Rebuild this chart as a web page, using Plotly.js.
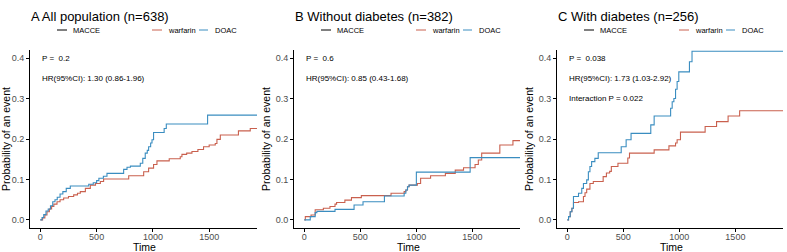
<!DOCTYPE html>
<html>
<head>
<meta charset="utf-8">
<script src="https://cdn.plot.ly/plotly-3.0.1.min.js"></script>
<style>html,body{margin:0;padding:0;background:#fff;}#chart{width:787px;height:252px;}</style>
</head>
<body>
<div id="chart"></div>
<script>
// ---- Data ----
const panelTitles = ["A All population (n=638)", "B Without diabetes (n=382)", "C With diabetes (n=256)"];
const pTexts = ["P = \u00a00.2", "P = \u00a00.6", "P = \u00a00.038"];
const hrTexts = ["HR(95%CI): 1.30 (0.86-1.96)", "HR(95%CI): 0.85 (0.43-1.68)", "HR(95%CI): 1.73 (1.03-2.92)"];
const interactionText = "Interaction P = 0.022";
const seriesNames = ["warfarin", "DOAC"];
const legendTitle = "MACCE";
const xTitle = "Time";
const yTitle = "Probability of an event";
const xTicks = [0, 500, 1000, 1500];
const yTicks = [0, 0.1, 0.2, 0.3, 0.4];

// Panel A
const A_warf_t = [0, 20, 40, 59, 80, 100, 120, 148, 175, 207, 250, 296, 330, 355, 400, 444, 490, 533, 562, 785, 918, 962, 1006, 1036, 1145, 1243, 1258, 1300, 1347, 1400, 1450, 1500, 1554, 1569, 1599, 1760, 1865, 1930];
const A_warf_p = [0, 0.005, 0.012, 0.02, 0.027, 0.033, 0.039, 0.045, 0.05, 0.054, 0.058, 0.062, 0.066, 0.07, 0.078, 0.086, 0.09, 0.095, 0.101, 0.109, 0.119, 0.128, 0.137, 0.146, 0.151, 0.156, 0.162, 0.165, 0.169, 0.174, 0.181, 0.185, 0.189, 0.199, 0.21, 0.22, 0.226, 0.226];
const A_doac_t = [0, 15, 30, 50, 70, 90, 110, 130, 150, 175, 200, 230, 266, 430, 470, 500, 520, 560, 592, 740, 770, 800, 888, 910, 932, 950, 962, 980, 992, 1006, 1100, 1119, 1486, 1930];
const A_doac_p = [0, 0.006, 0.013, 0.022, 0.027, 0.035, 0.045, 0.05, 0.056, 0.064, 0.07, 0.078, 0.084, 0.088, 0.092, 0.097, 0.103, 0.108, 0.115, 0.125, 0.13, 0.133, 0.14, 0.152, 0.165, 0.172, 0.181, 0.19, 0.198, 0.216, 0.226, 0.237, 0.259, 0.259];

// Panel B
const B_warf_t = [0, 9, 60, 97, 170, 229, 274, 288, 362, 421, 509, 774, 891, 906, 921, 935, 1009, 1038, 1127, 1259, 1347, 1421, 1524, 1553, 1583, 1745, 1862, 1930];
const B_warf_p = [0, 0.008, 0.012, 0.025, 0.029, 0.033, 0.039, 0.043, 0.049, 0.055, 0.06, 0.066, 0.07, 0.074, 0.082, 0.086, 0.09, 0.103, 0.109, 0.115, 0.123, 0.129, 0.137, 0.148, 0.165, 0.185, 0.196, 0.196];
const B_doac_t = [0, 53, 97, 112, 274, 444, 524, 715, 891, 906, 921, 935, 1000, 1480, 1930];
const B_doac_p = [0, 0.008, 0.018, 0.021, 0.026, 0.037, 0.045, 0.059, 0.066, 0.074, 0.082, 0.086, 0.118, 0.154, 0.154];

// Panel C
const C_warf_t = [0, 11, 26, 41, 55, 100, 144, 158, 173, 202, 232, 320, 349, 378, 393, 452, 540, 555, 775, 907, 966, 980, 1010, 1230, 1332, 1435, 1538, 1930];
const C_warf_p = [0, 0.008, 0.02, 0.029, 0.043, 0.045, 0.058, 0.067, 0.076, 0.09, 0.095, 0.107, 0.116, 0.12, 0.132, 0.14, 0.153, 0.165, 0.173, 0.183, 0.19, 0.198, 0.217, 0.231, 0.243, 0.257, 0.27, 0.27];
const C_doac_t = [0, 11, 26, 41, 55, 100, 129, 144, 173, 188, 202, 217, 246, 276, 481, 525, 569, 745, 775, 922, 936, 951, 966, 980, 995, 1090, 1113, 1930];
const C_doac_p = [0, 0.008, 0.02, 0.029, 0.058, 0.066, 0.078, 0.09, 0.099, 0.119, 0.132, 0.144, 0.152, 0.166, 0.181, 0.198, 0.214, 0.235, 0.257, 0.276, 0.292, 0.3, 0.323, 0.342, 0.366, 0.391, 0.417, 0.417];

// ---- Styling / layout ----
const W = 787, H = 252;
const RED = "#C9604E", BLUE = "#3A8DC0";
const FONT = "Liberation Sans, Arial, sans-serif";
const leftPx = [30, 294, 557];
const rightPx = [257, 520, 783];
const topPx = 50, botPx = 228;

const panels = [
  {warf: [A_warf_t, A_warf_p], doac: [A_doac_t, A_doac_p]},
  {warf: [B_warf_t, B_warf_p], doac: [B_doac_t, B_doac_p]},
  {warf: [C_warf_t, C_warf_p], doac: [C_doac_t, C_doac_p]}
];

const traces = [];
const layout = {
  width: W, height: H,
  margin: {l: 0, r: 0, t: 0, b: 0},
  paper_bgcolor: "#fff", plot_bgcolor: "#fff",
  showlegend: false,
  font: {family: FONT, color: "#000"},
  annotations: [], shapes: []
};

const px = x => x / W;
const py = y => 1 - y / H;

panels.forEach((p, i) => {
  const n = i === 0 ? "" : String(i + 1);
  const xa = "x" + n, ya = "y" + n;
  traces.push({x: p.warf[0], y: p.warf[1], xaxis: xa, yaxis: ya, type: "scatter", mode: "lines",
    name: seriesNames[0], line: {shape: "hv", color: RED, width: 1.1}, hoverinfo: "x+y"});
  traces.push({x: p.doac[0], y: p.doac[1], xaxis: xa, yaxis: ya, type: "scatter", mode: "lines",
    name: seriesNames[1], line: {shape: "hv", color: BLUE, width: 1.1}, hoverinfo: "x+y"});

  layout["xaxis" + n] = {
    domain: [px(leftPx[i]), px(rightPx[i])], anchor: ya,
    range: [-92, 1925], tickvals: xTicks, ticktext: xTicks.map(String),
    showgrid: false, zeroline: false, showline: true, linecolor: "#000", linewidth: 1,
    ticks: "outside", ticklen: 3, tickcolor: "#000", tickwidth: 1,
    ticklabelstandoff: -3,
    tickfont: {size: 9, color: "#4D4D4D", family: FONT},
    automargin: false, fixedrange: true
  };
  layout["yaxis" + n] = {
    domain: [py(botPx), py(topPx)], anchor: xa,
    range: [-0.02, 0.42], tickvals: yTicks, ticktext: yTicks.map(v => v.toFixed(1)),
    showgrid: false, zeroline: false, showline: true, linecolor: "#000", linewidth: 1,
    ticks: "outside", ticklen: 3, tickcolor: "#000", tickwidth: 1,
    tickfont: {size: 9, color: "#4D4D4D", family: FONT},
    title: {text: yTitle, font: {size: 10.5, color: "#000", family: FONT}, standoff: 3},
    automargin: false, fixedrange: true
  };

  // x-axis title
  layout.annotations.push({text: xTitle, xref: "paper", yref: "paper",
    x: px((leftPx[i] + rightPx[i]) / 2 + 1), y: py(246.5), xanchor: "center", yanchor: "middle", showarrow: false,
    font: {size: 10.5, color: "#000", family: FONT}});

  // panel title
  layout.annotations.push({text: panelTitles[i], xref: "paper", yref: "paper",
    x: px(leftPx[i] - 1), y: py(17), xanchor: "left", yanchor: "middle", showarrow: false,
    font: {size: 13, color: "#000", family: FONT}});

  // p-value / HR texts in data coords
  layout.annotations.push({text: pTexts[i], xref: xa, yref: ya, x: 0, y: 0.4,
    xanchor: "left", yanchor: "middle", showarrow: false, font: {size: 8, color: "#000", family: FONT}});
  layout.annotations.push({text: hrTexts[i], xref: xa, yref: ya, x: 0, y: 0.35,
    xanchor: "left", yanchor: "middle", showarrow: false, font: {size: 8, color: "#000", family: FONT}});
  if (i === 2) {
    layout.annotations.push({text: interactionText, xref: xa, yref: ya, x: 0, y: 0.3,
      xanchor: "left", yanchor: "middle", showarrow: false, font: {size: 8, color: "#000", family: FONT}});
  }

  // legend row (ggplot-style keys)
  const x0 = leftPx[i], ly = 30;
  const keys = [
    {a: 27, b: 37, t: 41, c: "#000", s: legendTitle},
    {a: 122, b: 132, t: 136, c: RED, s: seriesNames[0]},
    {a: 169, b: 178, t: 183, c: BLUE, s: seriesNames[1]}
  ];
  keys.forEach(k => {
    layout.shapes.push({type: "line", xref: "paper", yref: "paper",
      x0: px(x0 + k.a), x1: px(x0 + k.b), y0: py(ly), y1: py(ly), line: {color: k.c, width: 1}});
    layout.annotations.push({text: k.s, xref: "paper", yref: "paper", x: px(x0 + k.t), y: py(ly),
      xanchor: "left", yanchor: "middle", showarrow: false, font: {size: 7.5, color: "#000", family: FONT}});
  });
});

Plotly.newPlot("chart", traces, layout, {displayModeBar: false, staticPlot: true});
</script>
</body>
</html>
